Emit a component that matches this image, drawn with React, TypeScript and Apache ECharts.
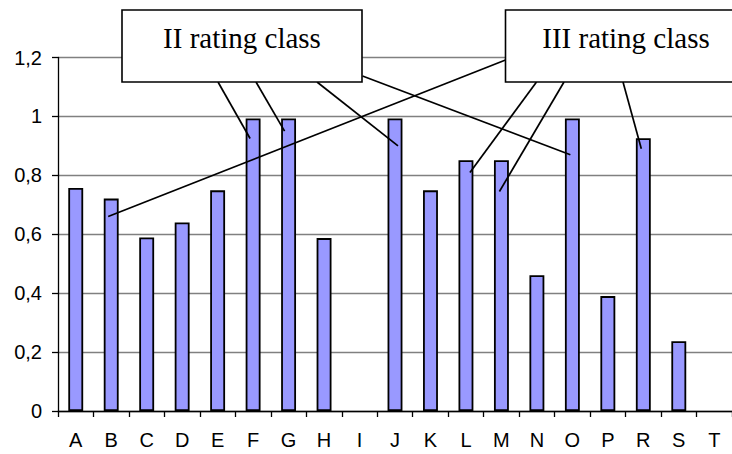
import React, { useEffect, useRef } from "react";
import * as echarts from "echarts";

const categories = ["A", "B", "C", "D", "E", "F", "G", "H", "I", "J", "K", "L", "M", "N", "O", "P", "R", "S", "T"];
const values: (number | null)[] = [0.757, 0.721, 0.589, 0.64, 0.749, 0.993, 0.993, 0.587, null, 0.993, 0.749, 0.851, 0.851, 0.461, 0.993, 0.39, 0.926, 0.237, null];
const yTicks = [0, 0.2, 0.4, 0.6, 0.8, 1, 1.2];

const boxLabels = ["II rating class", "III rating class"];
// callout targets: [category, value at arrow tip]
const classIITargets: [string, number][] = [["F", 0.925], ["G", 0.95], ["J", 0.9], ["O", 0.87]];
const classIIITargets: [string, number][] = [["B", 0.66], ["L", 0.81], ["M", 0.745], ["R", 0.89]];

export default function App() {
  const ref = useRef<HTMLDivElement>(null);
  useEffect(() => {
    document.body.style.margin = "0";
    const chart = echarts.init(ref.current!, null, { renderer: "svg" });
    const fmt = (v: number) => String(Math.round(v * 10) / 10).replace(".", ",");
    chart.setOption({
      animation: false,
      backgroundColor: "#ffffff",
      grid: { left: 58, right: 0, top: 57.5, bottom: 43, containLabel: false },
      xAxis: {
        type: "category",
        data: categories,
        axisLine: { lineStyle: { color: "#000", width: 1.3 } },
        axisTick: { show: true, length: 6, alignWithLabel: false, lineStyle: { color: "#000", width: 1.3 } },
        axisLabel: { color: "#000", fontFamily: "Liberation Sans, Arial", fontSize: 20, margin: 19, interval: 0 },
        splitLine: { show: false },
      },
      yAxis: {
        type: "value",
        min: yTicks[0],
        max: yTicks[yTicks.length - 1],
        interval: 0.2,
        axisLine: { show: true, lineStyle: { color: "#000", width: 1.3 } },
        axisTick: { show: true, length: 6, lineStyle: { color: "#000", width: 1.3 } },
        axisLabel: { color: "#000", fontFamily: "Liberation Sans, Arial", fontSize: 20, margin: 16, formatter: fmt },
        splitLine: { show: true, lineStyle: { color: "#808080", width: 1.3 } },
      },
      series: [
        {
          type: "bar",
          data: values,
          barWidth: "42%",
          itemStyle: { color: "#9999ff", borderColor: "#000", borderWidth: 1.8 },
        },
      ],
    });

    const px = (c: string, v: number, dx: number) => {
      const p = chart.convertToPixel({ gridIndex: 0 }, [c, v]) as number[];
      return [p[0] + dx, p[1]];
    };
    const iiStarts = [[218, 82], [256, 82], [317, 82], [362.5, 76]];
    const iiDx = [-3, -4, 3, -2];
    const iiiStarts = [[505.5, 60], [536.5, 82], [564, 82], [623, 82]];
    const iiiDx = [-3, 4, -2, -2];
    const lines: any[] = [];
    classIITargets.forEach((t, i) => {
      const e = px(t[0], t[1], iiDx[i]);
      lines.push({ type: "line", shape: { x1: iiStarts[i][0], y1: iiStarts[i][1], x2: e[0], y2: e[1] }, style: { stroke: "#000", lineWidth: 1.7 }, z: 100 });
    });
    classIIITargets.forEach((t, i) => {
      const e = px(t[0], t[1], iiiDx[i]);
      lines.push({ type: "line", shape: { x1: iiiStarts[i][0], y1: iiiStarts[i][1], x2: e[0], y2: e[1] }, style: { stroke: "#000", lineWidth: 1.7 }, z: 100 });
    });
    const boxStyle = { fill: "#fff", stroke: "#000", lineWidth: 1.6 };
    const textStyle = (s: string, x: number) => ({
      text: s, x, y: 38, align: "center", verticalAlign: "middle",
      fontFamily: "Liberation Serif, Times New Roman", fontSize: 29, fill: "#000",
    });
    chart.setOption({
      graphic: [
        ...lines,
        { type: "rect", shape: { x: 122, y: 10, width: 240, height: 72 }, style: boxStyle, z: 101 },
        { type: "text", style: textStyle(boxLabels[0], 242), z: 102 },
        { type: "rect", shape: { x: 505.5, y: 10, width: 242, height: 72 }, style: boxStyle, z: 101 },
        { type: "text", style: textStyle(boxLabels[1], 626), z: 102 },
      ],
    });
    return () => chart.dispose();
  }, []);
  return <div ref={ref} style={{ width: 732, height: 454, position: "absolute", left: 0, top: 0 }} />;
}
